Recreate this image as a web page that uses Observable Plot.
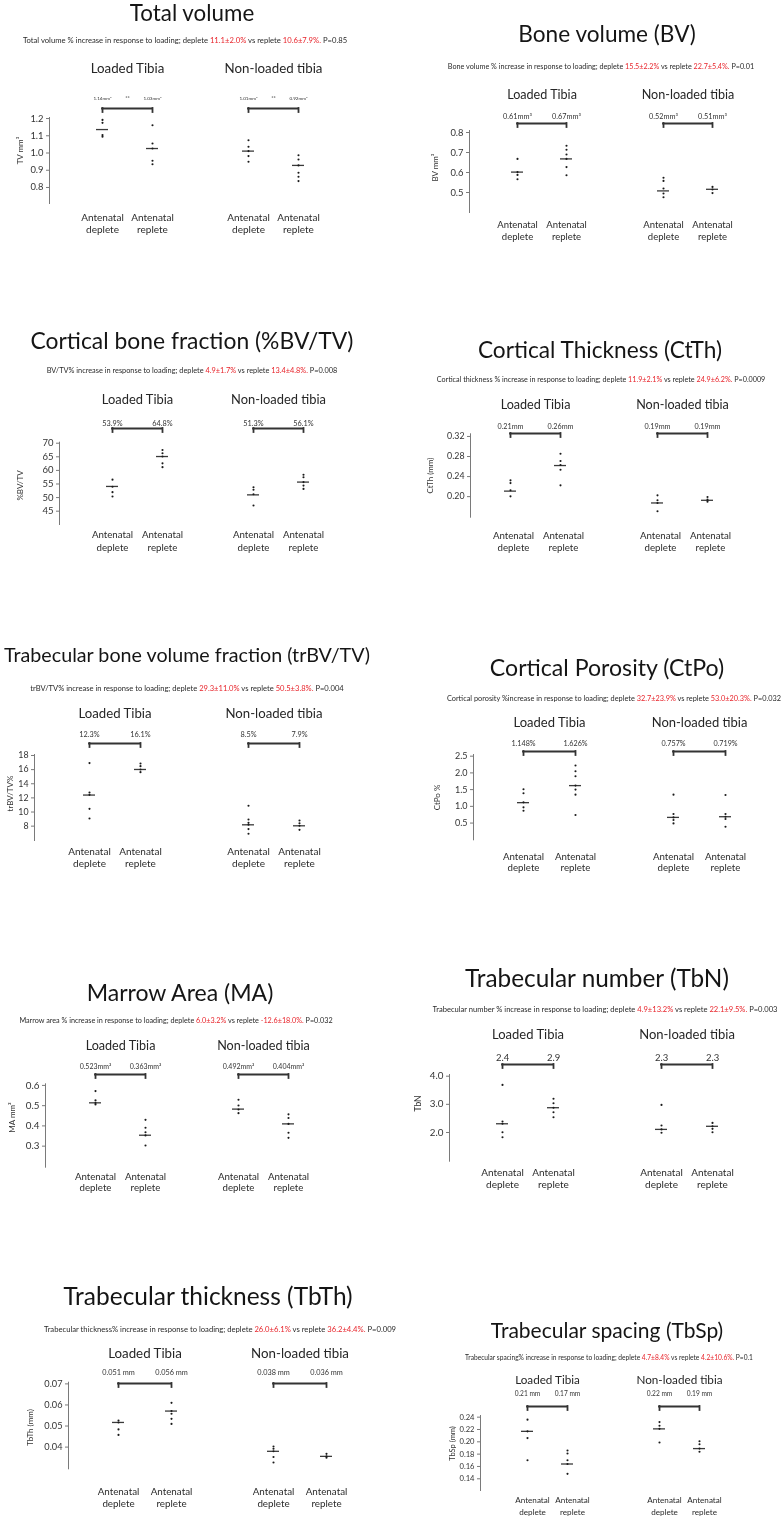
<!DOCTYPE html>
<html><head><meta charset="utf-8">
<script src="https://cdn.jsdelivr.net/npm/d3@7"></script>
<script src="https://cdn.jsdelivr.net/npm/@observablehq/plot@0.6"></script>
<style>
html,body{margin:0;padding:0;background:#fff;}
#page{position:relative;width:783px;height:1516px;overflow:hidden;font-family:Lato,"Open Sans",sans-serif;color:#151515;}
.title,.sub{position:absolute;white-space:nowrap;line-height:1.15;transform:translate(-50%,-50%);will-change:transform;-webkit-font-smoothing:antialiased;}
.sub{color:#2a2a2a;}
.red{color:#e8242b;}
svg{will-change:transform;}
</style></head><body><div id="page"></div>
<script>
// ---------- data ----------
const groups = ["Loaded Tibia", "Non-loaded tibia"];
const conditions = ["Antenatal deplete", "Antenatal replete"];

const titles = ["Total volume", "Bone volume (BV)", "Cortical bone fraction (%BV/TV)", "Cortical Thickness (CtTh)",
  "Trabecular bone volume fraction (trBV/TV)", "Cortical Porosity (CtPo)", "Marrow Area (MA)",
  "Trabecular number (TbN)", "Trabecular thickness (TbTh)", "Trabecular spacing (TbSp)"];
const subtitleLeads = ["Total volume % increase in response to loading; deplete",
  "Bone volume % increase in response to loading; deplete",
  "BV/TV% increase in response to loading; deplete",
  "Cortical thickness % increase in response to loading; deplete",
  "trBV/TV% increase in response to loading; deplete",
  "Cortical porosity %increase in response to loading; deplete",
  "Marrow area % increase in response to loading; deplete",
  "Trabecular number % increase in response to loading; deplete",
  "Trabecular thickness% increase in response to loading; deplete",
  "Trabecular spacing% increase in response to loading; deplete"];
const depleteChanges = ["11.1±2.0%", "15.5±2.2%", "4.9±1.7%", "11.9±2.1%", "29.3±11.0%", "32.7±23.9%", "6.0±3.2%", "4.9±13.2%", "26.0±6.1%", "4.7±8.4%"];
const repleteChanges = ["10.6±7.9%", "22.7±5.4%", "13.4±4.8%", "24.9±6.2%", "50.5±3.8%", "53.0±20.3%", "-12.6±18.0%", "22.1±9.5%", "36.2±4.4%", "4.2±10.6%"];
const pValues = ["P=0.85", "P=0.01", "P=0.008", "P=0.0009", "P=0.004", "P=0.032", "P=0.032", "P=0.003", "P=0.009", "P=0.1"];
const yLabels = ["TV mm³", "BV mm³", "%BV/TV", "CtTh (mm)", "trBV/TV%", "CtPo %", "MA mm²", "TbN", "TbTh (mm)", "TbSp (mm)"];
const yTicks = [[0.8, 0.9, 1.0, 1.1, 1.2], [0.5, 0.6, 0.7, 0.8], [45, 50, 55, 60, 65, 70], [0.20, 0.24, 0.28, 0.32],
  [8, 10, 12, 14, 16, 18], [0.5, 1.0, 1.5, 2.0, 2.5], [0.3, 0.4, 0.5, 0.6], [2.0, 3.0, 4.0],
  [0.04, 0.05, 0.06, 0.07], [0.14, 0.16, 0.18, 0.20, 0.22, 0.24]];
const yTickFormats = [".1f", ".1f", "d", ".2f", "d", ".1f", ".1f", ".1f", ".2f", ".2f"];
const yDomains = [[0.707, 1.206], [0.40, 0.81], [40.1, 70.37], [0.159, 0.3253], [5.97, 18.14],
  [0.0, 2.55], [0.196, 0.608], [0.98, 4.06], [0.0297, 0.0708], [0.121, 0.2427]];
// order: loaded deplete, loaded replete, non-loaded deplete, non-loaded replete
const valueLabels = [["1.14mm³", "1.03mm³", "1.01mm³", "0.92mm³"], ["0.61mm³", "0.67mm³", "0.52mm³", "0.51mm³"],
  ["53.9%", "64.8%", "51.3%", "56.1%"], ["0.21mm", "0.26mm", "0.19mm", "0.19mm"], ["12.3%", "16.1%", "8.5%", "7.9%"],
  ["1.148%", "1.626%", "0.757%", "0.719%"], ["0.523mm²", "0.363mm²", "0.492mm²", "0.404mm²"], ["2.4", "2.9", "2.3", "2.3"],
  ["0.051 mm", "0.056 mm", "0.038 mm", "0.036 mm"], ["0.21 mm", "0.17 mm", "0.22 mm", "0.19 mm"]];
const significance = [["**", "**"], [], [], [], [], [], [], [], [], []];

const tvPoints = [[1.192, 1.175, 1.104, 1.095], [1.161, 1.055, 1.026, 0.955, 0.935], [1.074, 1.036, 1.011, 0.982, 0.949], [0.987, 0.962, 0.928, 0.885, 0.862, 0.837]];
const tvMeans = [1.136, 1.026, 1.011, 0.928];
const bvPoints = [[0.668, 0.602, 0.588, 0.566], [0.734, 0.714, 0.69, 0.668, 0.627, 0.586], [0.574, 0.558, 0.52, 0.495, 0.476], [0.528, 0.515, 0.497]];
const bvMeans = [0.602, 0.668, 0.508, 0.516];
const bvtvPoints = [[56.6, 54.0, 52.0, 50.4], [67.5, 66.3, 65.1, 62.6, 61.2], [53.8, 52.9, 51.2, 47.1], [58.4, 57.5, 55.7, 54.4, 53.2]];
const bvtvMeans = [54.1, 65.1, 51.0, 55.7];
const ctthPoints = [[0.2325, 0.227, 0.2126, 0.2006], [0.2855, 0.271, 0.263, 0.2537, 0.2225], [0.2026, 0.1927, 0.1874, 0.1708], [0.1993, 0.194, 0.19]];
const ctthMeans = [0.211, 0.262, 0.1874, 0.1927];
const trbvtvPoints = [[16.92, 12.76, 12.43, 10.45, 9.08], [16.87, 16.49, 16.02, 15.64], [10.88, 8.94, 8.47, 8.19, 7.58, 6.92], [8.8, 8.42, 8.05, 7.48]];
const trbvtvMeans = [12.4, 16.02, 8.19, 8.05];
const ctpoPoints = [[1.51, 1.39, 1.12, 0.97, 0.87], [2.22, 2.05, 1.90, 1.62, 1.50, 1.35, 0.74], [1.35, 0.77, 0.67, 0.59, 0.49], [1.34, 0.77, 0.69, 0.62, 0.39]];
const ctpoMeans = [1.11, 1.62, 0.67, 0.69];
const maPoints = [[0.572, 0.526, 0.513, 0.506], [0.43, 0.391, 0.369, 0.353, 0.303], [0.529, 0.501, 0.481, 0.463], [0.457, 0.439, 0.41, 0.366, 0.341]];
const maMeans = [0.514, 0.354, 0.483, 0.41];
const tbnPoints = [[3.69, 2.39, 2.31, 2.01, 1.83], [3.20, 3.04, 2.88, 2.72, 2.54], [2.98, 2.25, 2.11, 1.99], [2.34, 2.22, 2.13, 2.01]];
const tbnMeans = [2.31, 2.88, 2.11, 2.22];
const tbthPoints = [[0.0526, 0.0517, 0.0484, 0.0458], [0.0610, 0.0571, 0.0558, 0.0534, 0.0510], [0.0403, 0.0392, 0.0380, 0.0353, 0.0327], [0.0368, 0.0356, 0.0350]];
const tbthMeans = [0.0517, 0.0571, 0.038, 0.0356];
const tbspPoints = [[0.236, 0.217, 0.206, 0.170], [0.186, 0.181, 0.170, 0.164, 0.148], [0.232, 0.226, 0.221, 0.199], [0.201, 0.196, 0.189, 0.184]];
const tbspMeans = [0.217, 0.164, 0.221, 0.189];

const pointsByPanel = [tvPoints, bvPoints, bvtvPoints, ctthPoints, trbvtvPoints, ctpoPoints, maPoints, tbnPoints, tbthPoints, tbspPoints];
const meansByPanel = [tvMeans, bvMeans, bvtvMeans, ctthMeans, trbvtvMeans, ctpoMeans, maMeans, tbnMeans, tbthMeans, tbspMeans];

// ---------- layout (page pixels) ----------
const layout = [
  {left: 0, width: 390, title: [192, 13, 125], sub: [185, 40, 325], headerY: 68, headerSize: 13.3, valueY: 98, valueSize: 4.6, bracketY: 108, axisX: 49, ld: 102, step: 50, nd: 248, yTop: 117, yBottom: 203, tickFont: 9.4, cat: [217, 229], catSize: 10, catDx: 0, yLabel: [20, 150], yLabelSize: 8},
  {left: 390, width: 393, title: [607, 34, 178], sub: [601, 67, 307], headerY: 94, headerSize: 12.6, valueY: 116, valueSize: 7.3, bracketY: 123, axisX: 469, ld: 517, step: 49, nd: 663, yTop: 130, yBottom: 212, tickFont: 9.4, cat: [224, 236], catSize: 9.5, catDx: 0, yLabel: [435, 167], yLabelSize: 8},
  {left: 0, width: 390, title: [192, 340, 323], sub: [192, 371, 291], headerY: 399, headerSize: 12.9, valueY: 423, valueSize: 7.3, bracketY: 428, axisX: 59, ld: 112, step: 50, nd: 253, yTop: 441.7, yBottom: 524, tickFont: 9.5, cat: [533, 546], catSize: 9.7, catDx: 0, yLabel: [20, 485], yLabelSize: 8},
  {left: 390, width: 393, title: [600, 350, 245], sub: [601, 380, 329], headerY: 404, headerSize: 12.6, valueY: 426, valueSize: 7.2, bracketY: 433, axisX: 470, ld: 510, step: 50, nd: 657, yTop: 433.3, yBottom: 516.7, tickFont: 8.8, cat: [535, 547], catSize: 9.7, catDx: 3, yLabel: [430, 475], yLabelSize: 8},
  {left: 0, width: 390, title: [187, 655, 367], sub: [187, 689, 314], headerY: 713, headerSize: 13.2, valueY: 734, valueSize: 7.3, bracketY: 743, axisX: 34, ld: 89, step: 51, nd: 248, yTop: 754, yBottom: 840, tickFont: 8.8, cat: [851, 863], catSize: 10, catDx: 0, yLabel: [10, 793], yLabelSize: 8},
  {left: 390, width: 393, title: [607, 667, 235], sub: [614, 699, 335], headerY: 722, headerSize: 13, valueY: 743, valueSize: 7.2, bracketY: 751, axisX: 473, ld: 523, step: 52, nd: 673, yTop: 754, yBottom: 839.3, tickFont: 9, cat: [856, 867], catSize: 9.7, catDx: 0, yLabel: [437, 797], yLabelSize: 8},
  {left: 0, width: 390, title: [180, 992, 188], sub: [176, 1021, 314], headerY: 1045, headerSize: 12.6, valueY: 1066, valueSize: 7, bracketY: 1074, axisX: 45, ld: 95, step: 50, nd: 238, yTop: 1083.3, yBottom: 1166.7, tickFont: 9.8, cat: [1176, 1187], catSize: 9.7, catDx: 0, yLabel: [12, 1117], yLabelSize: 8},
  {left: 390, width: 393, title: [597, 978, 265], sub: [605, 1010, 346], headerY: 1034, headerSize: 13, valueY: 1057, valueSize: 9.5, bracketY: 1064, axisX: 449, ld: 502, step: 51, nd: 661, yTop: 1074, yBottom: 1160.7, tickFont: 9.8, cat: [1172, 1184], catSize: 10, catDx: 0, yLabel: [418, 1103], yLabelSize: 8.5},
  {left: 0, width: 390, title: [208, 1296, 290], sub: [220, 1329, 353], headerY: 1353, headerSize: 13.3, valueY: 1372, valueSize: 7.3, bracketY: 1383, axisX: 68, ld: 118, step: 53, nd: 273, yTop: 1381.7, yBottom: 1468.3, tickFont: 9.2, cat: [1491, 1503], catSize: 9.8, catDx: 0, yLabel: [30, 1427], yLabelSize: 8},
  {left: 390, width: 393, title: [607, 1330, 233], sub: [609, 1358, 289], headerY: 1380, headerSize: 11.7, valueY: 1393, valueSize: 6.6, bracketY: 1406, axisX: 480, ld: 527, step: 40, nd: 659, yTop: 1415, yBottom: 1490, tickFont: 7.6, cat: [1499, 1511], catSize: 8.1, catDx: 5, yLabel: [452, 1443], yLabelSize: 7.5}
];

// ---------- drawing ----------
const page = document.getElementById("page");
const FONT = "Lato";
const ctx = document.createElement("canvas").getContext("2d");
function widthAt100(text) { ctx.font = `100px ${FONT}`; return ctx.measureText(text).width; }

layout.forEach((L, p) => {
  // title
  const t = document.createElement("div");
  t.className = "title";
  t.textContent = titles[p];
  t.style.fontSize = (100 * L.title[2] / widthAt100(titles[p])) + "px";
  t.style.left = L.title[0] + "px";
  t.style.top = L.title[1] + "px";
  page.appendChild(t);

  // subtitle with red figures
  const s = document.createElement("div");
  s.className = "sub";
  const full = `${subtitleLeads[p]} ${depleteChanges[p]} vs replete ${repleteChanges[p]}. ${pValues[p]}`;
  s.style.fontSize = (100 * L.sub[2] / widthAt100(full)) + "px";
  s.style.left = L.sub[0] + "px";
  s.style.top = L.sub[1] + "px";
  s.append(subtitleLeads[p] + " ");
  const r1 = document.createElement("span"); r1.className = "red"; r1.textContent = depleteChanges[p];
  s.append(r1);
  s.append(" vs replete ");
  const r2 = document.createElement("span"); r2.className = "red"; r2.textContent = repleteChanges[p] + ".";
  s.append(r2);
  s.append(" " + pValues[p]);
  page.appendChild(s);

  // chart
  const a = L.ld - L.axisX, b = 10, W = a + L.step + b;
  const f2 = L.nd - a, gap = f2 - (L.axisX + W);
  const svgTop = L.headerY - 14, svgBottom = L.cat[1] + 9, height = svgBottom - svgTop;
  const dom = yDomains[p];
  const fmt = d3.format(yTickFormats[p]);

  const cells = groups.flatMap((g, gi) => conditions.map((c, ci) => ({group: g, condition: c, k: gi * 2 + ci})));
  const pointRows = cells.flatMap(cell => pointsByPanel[p][cell.k].map(v => ({...cell, value: v})));
  const meanRows = cells.map(cell => ({...cell, value: meansByPanel[p][cell.k]}));
  const labelRows = cells.map(cell => ({...cell, label: valueLabels[p][cell.k]}));
  const sigRows = significance[p].map((lab, gi) => ({group: groups[gi], label: lab}));
  const tickLen = 4;

  const chart = Plot.plot({
    width: L.width,
    height,
    marginTop: L.yTop - svgTop,
    marginBottom: svgBottom - L.yBottom,
    marginLeft: L.axisX - L.left,
    marginRight: L.left + L.width - (f2 + W),
    style: {fontFamily: "Lato, sans-serif", color: "#1c1c1c", background: "none", overflow: "visible"},
    fx: {domain: groups, paddingInner: gap / (W + gap), paddingOuter: 0, round: false, axis: null, label: null},
    x: {type: "point", domain: conditions, padding: 0, insetLeft: a, insetRight: b, round: false, axis: null},
    y: {domain: dom},
    marks: [
      Plot.frame({anchor: "left", facetAnchor: "left", stroke: "#7a7a7a"}),
      Plot.axisY({ticks: yTicks[p], tickFormat: fmt, tickSize: 3, tickPadding: 3, fontSize: L.tickFont, label: null, stroke: "#7a7a7a", fill: "#333"}),
      Plot.text([yLabels[p]], {fx: () => groups[0], text: d => d, frameAnchor: "left", rotate: -90,
        textAnchor: "middle", lineAnchor: "middle", dx: L.yLabel[0] - L.axisX,
        dy: L.yLabel[1] - (L.yTop + L.yBottom) / 2, fontSize: L.yLabelSize, fill: "#333"}),
      Plot.text(groups, {fx: d => d, text: d => d, frameAnchor: "top", textAnchor: "middle", lineAnchor: "middle",
        dx: (a - b) / 2, dy: L.headerY - L.yTop, fontSize: L.headerSize, fill: "#262626"}),
      Plot.text(labelRows, {fx: "group", x: "condition", text: "label", frameAnchor: "top", textAnchor: "middle",
        lineAnchor: "middle", dy: L.valueY - L.yTop, fontSize: L.valueSize, fill: "#333"}),
      Plot.text(sigRows, {fx: "group", text: "label", frameAnchor: "top", textAnchor: "middle", lineAnchor: "middle",
        dx: (a - b) / 2, dy: L.valueY - L.yTop, fontSize: L.valueSize + 1, fill: "#333"}),
      Plot.ruleY(groups, {fx: d => d, x1: () => conditions[0], x2: () => conditions[1], y: () => dom[1],
        dy: L.bracketY - L.yTop, stroke: "#333", strokeWidth: 1.8, strokeLinecap: "square"}),
      Plot.ruleX(cells, {fx: "group", x: "condition", y1: () => dom[1], y2: () => dom[1],
        insetTop: L.bracketY - L.yTop, insetBottom: (L.yTop - L.bracketY) - tickLen,
        stroke: "#333", strokeWidth: 1.8, strokeLinecap: "square"}),
      Plot.text(cells, {fx: "group", x: "condition", text: d => d.condition.replace(" ", "\n"), frameAnchor: "bottom",
        textAnchor: "middle", lineAnchor: "middle", lineHeight: (L.cat[1] - L.cat[0]) / L.catSize,
        dx: L.catDx, dy: (L.cat[0] + L.cat[1]) / 2 - L.yBottom, fontSize: L.catSize, fill: "#2b2b2b"}),
      Plot.ruleY(meanRows, {fx: "group", x1: "condition", x2: "condition", y: "value", insetLeft: -6, insetRight: -6,
        stroke: "#3a3a3a", strokeWidth: 1.3}),
      Plot.dot(pointRows, {fx: "group", x: "condition", y: "value", r: 1.05, fill: "#1a1a1a", stroke: null})
    ]
  });
  chart.style.position = "absolute";
  chart.style.left = L.left + "px";
  chart.style.top = svgTop + "px";
  page.appendChild(chart);
});
</script></body></html>
